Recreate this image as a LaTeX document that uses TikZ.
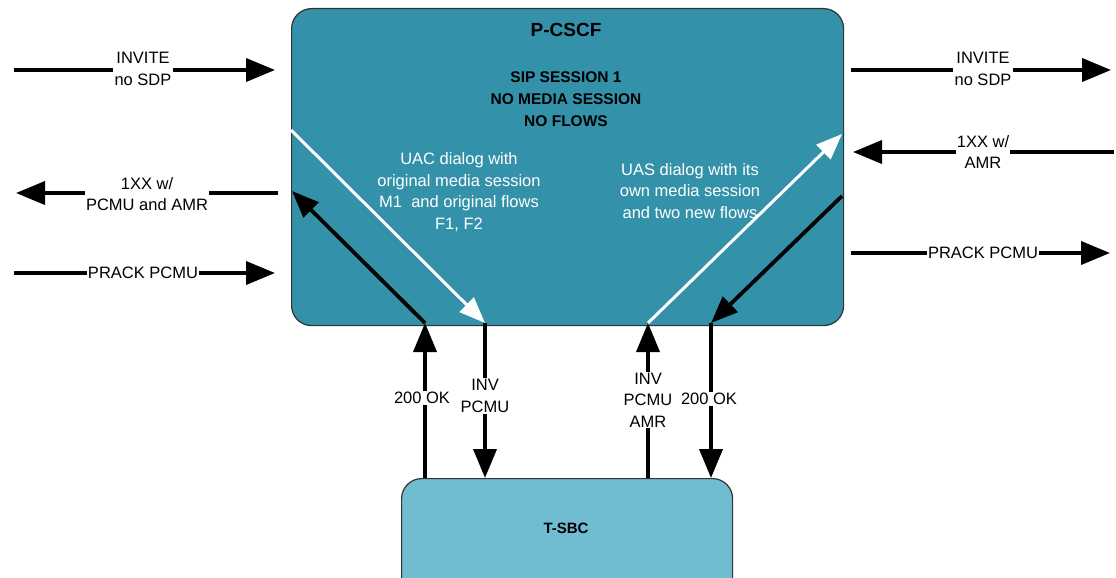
\documentclass[tikz,border=0pt]{standalone}
\usepackage{fontspec}
\setmainfont{Liberation Sans}
\usetikzlibrary{arrows.meta}
\definecolor{pcscfcol}{RGB}{51,145,170}
\definecolor{tsbccol}{RGB}{112,188,209}
\begin{document}
\begin{tikzpicture}[x=1pt,y=-1pt,
  box/.style={draw=black!80, line width=1.2pt, rounded corners=20pt, inner sep=0pt},
  msg/.style={line width=3.8pt, -{Triangle[length=29pt,width=23pt]}},
  dmsg/.style={line width=3.8pt, -{Triangle[length=27pt,width=21pt]}},
  wmsg/.style={draw=white, line width=3pt, -{Triangle[length=26pt,width=20pt]}},
  lbl/.style={fill=white, inner sep=1.2pt, align=center, font=\fontsize{16.5}{21.5}\selectfont},
  intxt/.style={text=white, align=center, font=\fontsize{16.5}{21.5}\selectfont},
  ttl/.style={align=center, font=\bfseries\fontsize{19}{22}\selectfont}]
\useasboundingbox (0,0) rectangle (1116,578);
\clip (0,0) rectangle (1116,578);

% boxes
\node[box, fill=pcscfcol, minimum width=552pt, minimum height=317pt, anchor=north west] (pcscf) at (291,8) {};
\node[box, fill=tsbccol, minimum width=331pt, minimum height=130pt, anchor=north west] (tsbc) at (401,478) {};
\node[ttl] (pcscfttl) at (566,30) {P-CSCF};
\node[ttl, font=\bfseries\fontsize{15.5}{22}\selectfont] (sip) at (566,99) {SIP SESSION 1\\NO MEDIA SESSION\\NO FLOWS};
\node[ttl, font=\bfseries\fontsize{15}{20}\selectfont] (tsbcttl) at (566,528) {T-SBC};

\node[intxt] (uac) at (459,192) {UAC dialog with\\original media session\\M1\ \ and original flows\\F1, F2};
\node[intxt] (uas) at (690,191) {UAS dialog with its\\own media session\\and two new flows};

% coordinates
\coordinate (l1s) at (14,70);   \coordinate (l1e) at (275,70);
\coordinate (l2s) at (278,193); \coordinate (l2e) at (16,193);
\coordinate (l3s) at (14,273);  \coordinate (l3e) at (275,273);
\coordinate (r1s) at (851,70);  \coordinate (r1e) at (1111,70);
\coordinate (r2s) at (1114,152);\coordinate (r2e) at (853,152);
\coordinate (r3s) at (851,253); \coordinate (r3e) at (1110,253);

\coordinate (b1) at (425,323); \coordinate (t1) at (425,478);
\coordinate (b2) at (485,323); \coordinate (t2) at (485,478);
\coordinate (b3) at (648,323); \coordinate (t3) at (648,478);
\coordinate (b4) at (711,323); \coordinate (t4) at (711,478);

\coordinate (dl1) at (291,130); \coordinate (dl2) at (292,191);
\coordinate (dr1) at (842,134); \coordinate (dr2) at (842,196);

% side arrows
\draw[msg] (l1s) -- (l1e);
\draw[msg] (l2s) -- (l2e);
\draw[msg] (l3s) -- (l3e);
\draw[msg] (r1s) -- (r1e);
\draw[msg] (r2s) -- (r2e);
\draw[msg] (r3s) -- (r3e);

% vertical arrows
\draw[msg] (t1) -- (b1);
\draw[msg] (b2) -- (t2);
\draw[msg] (t3) -- (b3);
\draw[msg] (b4) -- (t4);

% diagonal arrows
\draw[wmsg] (dl1) -- (b2);
\draw[dmsg] (b1) -- (dl2);
\draw[wmsg] (b3) -- (dr1);
\draw[dmsg] (dr2) -- (b4);

% labels
\node[lbl] (l1lbl) at (143,69) {INVITE\\no SDP};
\node[lbl] (l2lbl) at (147,194) {1XX w/\\PCMU and AMR};
\node[lbl] (l3lbl) at (143,273) {PRACK PCMU};
\node[lbl] (r1lbl) at (983,69) {INVITE\\no SDP};
\node[lbl] (r2lbl) at (983,152) {1XX w/\\AMR};
\node[lbl] (r3lbl) at (983,253) {PRACK PCMU};

\node[lbl] (v1lbl) at (422,398) {200 OK};
\node[lbl] (v2lbl) at (485,396) {INV\\PCMU};
\node[lbl] (v3lbl) at (648,400) {INV\\PCMU\\AMR};
\node[lbl] (v4lbl) at (709,399) {200 OK};
\end{tikzpicture}
\end{document}
